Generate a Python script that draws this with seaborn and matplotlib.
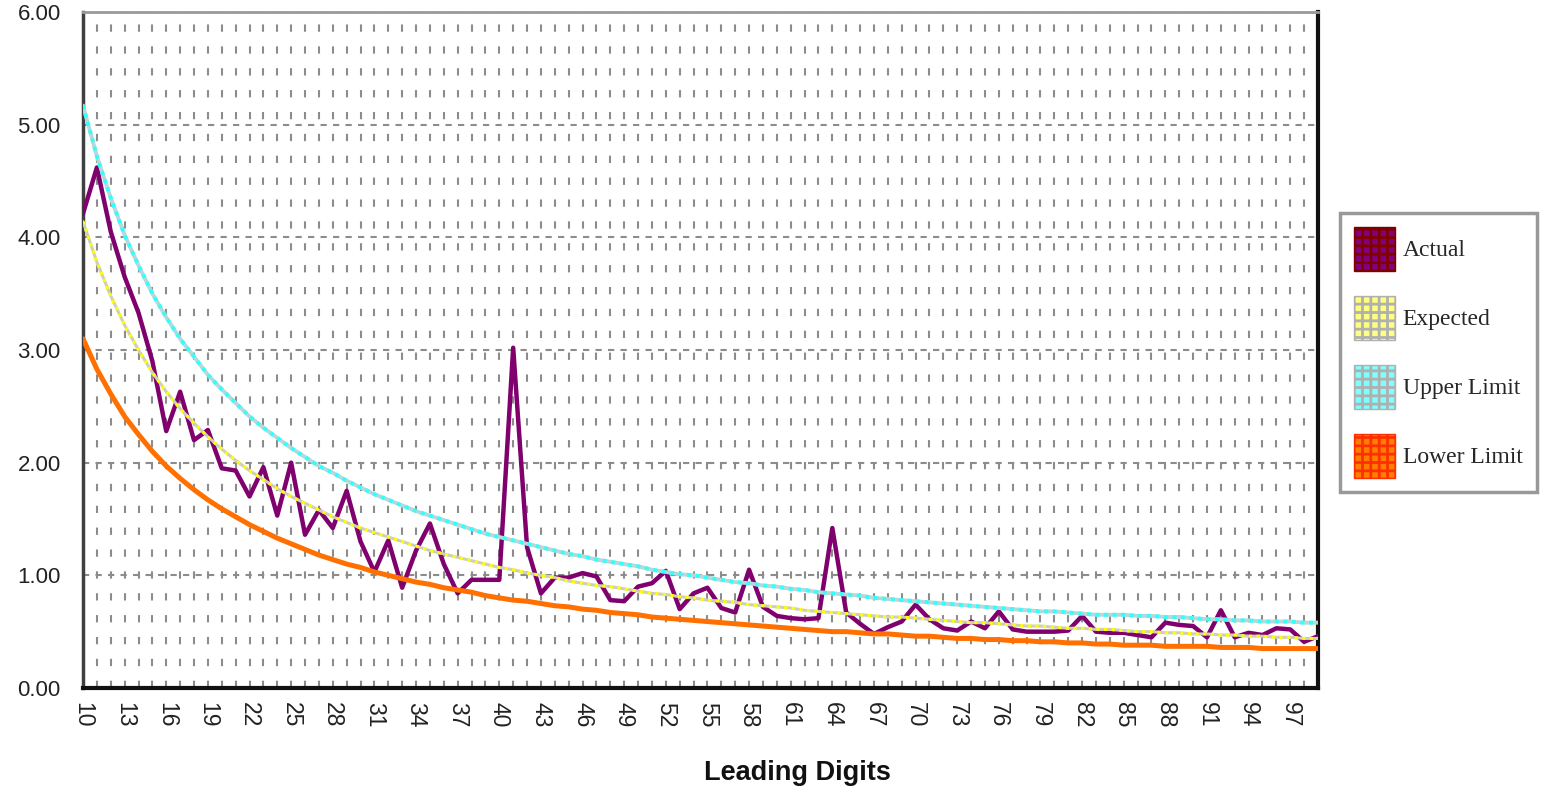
import seaborn as sns
import matplotlib.pyplot as plt
import pandas as pd
from matplotlib.patches import Patch

# leading two digits 10..99
digits = list(range(10, 100))

actual = [4.21, 4.62, 4.05, 3.65, 3.33, 2.90, 2.28, 2.63, 2.20, 2.29,
          1.95, 1.93, 1.70, 1.96, 1.53, 2.00, 1.36, 1.58, 1.42, 1.75,
          1.30, 1.03, 1.31, 0.89, 1.22, 1.46, 1.10, 0.84, 0.96, 0.96,
          0.96, 3.02, 1.25, 0.84, 0.98, 0.98, 1.02, 0.99, 0.78, 0.77,
          0.90, 0.93, 1.04, 0.70, 0.84, 0.89, 0.71, 0.67, 1.05, 0.72,
          0.64, 0.62, 0.61, 0.62, 1.42, 0.67, 0.57, 0.48, 0.54, 0.59,
          0.74, 0.61, 0.53, 0.51, 0.59, 0.53, 0.68, 0.52, 0.50, 0.50,
          0.50, 0.51, 0.64, 0.50, 0.49, 0.49, 0.47, 0.45, 0.58, 0.56,
          0.55, 0.45, 0.69, 0.45, 0.49, 0.47, 0.53, 0.52, 0.41, 0.46]

expected = [4.14, 3.78, 3.48, 3.22, 3.00, 2.80, 2.63, 2.48, 2.35, 2.23,
            2.12, 2.02, 1.93, 1.85, 1.77, 1.70, 1.64, 1.58, 1.52, 1.47,
            1.42, 1.38, 1.34, 1.30, 1.26, 1.22, 1.19, 1.16, 1.13, 1.10,
            1.07, 1.05, 1.02, 1.00, 0.98, 0.95, 0.93, 0.91, 0.90, 0.88,
            0.86, 0.84, 0.83, 0.81, 0.80, 0.78, 0.77, 0.76, 0.74, 0.73,
            0.72, 0.71, 0.69, 0.68, 0.67, 0.66, 0.65, 0.64, 0.63, 0.63,
            0.62, 0.61, 0.60, 0.59, 0.58, 0.58, 0.57, 0.56, 0.55, 0.55,
            0.54, 0.53, 0.53, 0.52, 0.52, 0.51, 0.50, 0.50, 0.49, 0.49,
            0.48, 0.48, 0.47, 0.47, 0.46, 0.46, 0.45, 0.45, 0.44, 0.44]

upper_limit = [5.17, 4.72, 4.35, 4.02, 3.75, 3.50, 3.29, 3.10, 2.94, 2.78,
               2.65, 2.53, 2.41, 2.31, 2.22, 2.13, 2.05, 1.97, 1.91, 1.84,
               1.78, 1.72, 1.67, 1.62, 1.57, 1.53, 1.49, 1.45, 1.41, 1.37,
               1.34, 1.31, 1.28, 1.25, 1.22, 1.19, 1.17, 1.14, 1.12, 1.10,
               1.08, 1.05, 1.03, 1.01, 1.00, 0.98, 0.96, 0.94, 0.93, 0.91,
               0.90, 0.88, 0.87, 0.85, 0.84, 0.83, 0.82, 0.80, 0.79, 0.78,
               0.77, 0.76, 0.75, 0.74, 0.73, 0.72, 0.71, 0.70, 0.69, 0.68,
               0.68, 0.67, 0.66, 0.65, 0.65, 0.65, 0.64, 0.64, 0.63, 0.63,
               0.62, 0.61, 0.61, 0.60, 0.60, 0.59, 0.59, 0.59, 0.58, 0.58]

lower_limit = [3.10, 2.83, 2.61, 2.41, 2.25, 2.10, 1.97, 1.86, 1.76, 1.67,
               1.59, 1.52, 1.45, 1.39, 1.33, 1.28, 1.23, 1.18, 1.14, 1.10,
               1.07, 1.03, 1.00, 0.97, 0.94, 0.92, 0.89, 0.87, 0.85, 0.82,
               0.80, 0.78, 0.77, 0.75, 0.73, 0.72, 0.70, 0.69, 0.67, 0.66,
               0.65, 0.63, 0.62, 0.61, 0.60, 0.59, 0.58, 0.57, 0.56, 0.55,
               0.54, 0.53, 0.52, 0.51, 0.50, 0.50, 0.49, 0.48, 0.48, 0.47,
               0.46, 0.46, 0.45, 0.44, 0.44, 0.43, 0.43, 0.42, 0.42, 0.41,
               0.41, 0.40, 0.40, 0.39, 0.39, 0.38, 0.38, 0.38, 0.37, 0.37,
               0.37, 0.37, 0.36, 0.36, 0.36, 0.35, 0.35, 0.35, 0.35, 0.35]

tick_digits = [10, 13, 16, 19, 22, 25, 28, 31, 34, 37, 40, 43, 46, 49, 52,
               55, 58, 61, 64, 67, 70, 73, 76, 79, 82, 85, 88, 91, 94, 97]
y_ticks = [0, 1, 2, 3, 4, 5, 6]
series_names = ["Actual", "Expected", "Upper Limit", "Lower Limit"]

df = pd.DataFrame({"digit": digits, "Actual": actual, "Expected": expected,
                   "Upper Limit": upper_limit, "Lower Limit": lower_limit})

sns.set_style("white")
plt.rcParams["font.family"] = ["Liberation Sans", "DejaVu Sans"]
plt.rcParams["hatch.linewidth"] = 2.0

fig = plt.figure(figsize=(15.46, 7.90), dpi=100)
ax = fig.add_axes([83 / 1546, 102 / 790, 1235 / 1546, 676 / 790])

# dashed grid, one vertical line per digit
ax.set_xticks(tick_digits)
ax.set_xticks(digits, minor=True)
ax.set_yticks(y_ticks)
ax.xaxis.grid(True, which="both", color="#8c8c8c", lw=1.5, ls=(0, (3.5, 7)))
ax.yaxis.grid(True, which="major", color="#8c8c8c", lw=1.5, ls=(0, (3, 3)))
ax.set_axisbelow(True)

# series (patterned excel lines imitated by a base line + dotted overlay)
sns.lineplot(data=df, x="digit", y="Actual", color="#80006e", lw=3.2,
             ax=ax, zorder=3, legend=False)
sns.lineplot(data=df, x="digit", y="Expected", color="#cfcfb8", lw=2.2,
             ax=ax, zorder=4, legend=False)
sns.lineplot(data=df, x="digit", y="Expected", color="#ffff00", lw=2.2,
             linestyle=(0, (1, 1.5)), ax=ax, zorder=4, legend=False)
sns.lineplot(data=df, x="digit", y="Upper Limit", color="#b8d8d8", lw=2.8,
             ax=ax, zorder=5, legend=False)
sns.lineplot(data=df, x="digit", y="Upper Limit", color="#30ffff", lw=2.8,
             linestyle=(0, (1, 1.2)), ax=ax, zorder=5, legend=False)
sns.lineplot(data=df, x="digit", y="Lower Limit", color="#ff7000", lw=3.6,
             ax=ax, zorder=6, legend=False)

ax.set_xlim(10, 99)
ax.set_ylim(0, 6)
ax.set_xlabel("")
ax.set_ylabel("")
ax.set_yticklabels([f"{v:.2f}" for v in y_ticks])
ax.set_xticklabels([str(d) for d in tick_digits])
ax.tick_params(axis="both", which="both", length=0)
ax.tick_params(axis="y", labelsize=16, pad=16, labelcolor="#222222")
ax.tick_params(axis="x", labelsize=16.5, pad=10, labelrotation=270,
               labelcolor="#222222")

ax.spines["left"].set_color("#404040")
ax.spines["left"].set_linewidth(2.5)
ax.spines["bottom"].set_color("#111111")
ax.spines["bottom"].set_linewidth(3)
ax.spines["right"].set_color("#111111")
ax.spines["right"].set_linewidth(3)
ax.spines["top"].set_color("#999999")
ax.spines["top"].set_linewidth(2)

fig.text(797 / 1546, 1 - 773 / 790, "Leading Digits", ha="center", va="center",
         fontsize=19.5, fontweight="bold", color="#111111")

handles = [
    Patch(facecolor="#800080", edgecolor="#800000", hatch="++"),
    Patch(facecolor="#ffff80", edgecolor="#b0b0b0", hatch="++"),
    Patch(facecolor="#80ffff", edgecolor="#b0b0b0", hatch="++"),
    Patch(facecolor="#ff8000", edgecolor="#ff3000", hatch="++"),
]
leg = fig.legend(handles, series_names, loc="upper left",
                 bbox_to_anchor=(1340 / 1546, 1 - 213 / 790),
                 bbox_transform=fig.transFigure, borderaxespad=0,
                 prop={"family": "Liberation Serif", "size": 17},
                 frameon=True, fancybox=False, edgecolor="#808080",
                 handlelength=1.75, handleheight=2.5, labelspacing=1.05,
                 handletextpad=0.3, borderpad=0.6)
leg.get_frame().set_linewidth(2.5)

fig.savefig("out.png", dpi=100)
